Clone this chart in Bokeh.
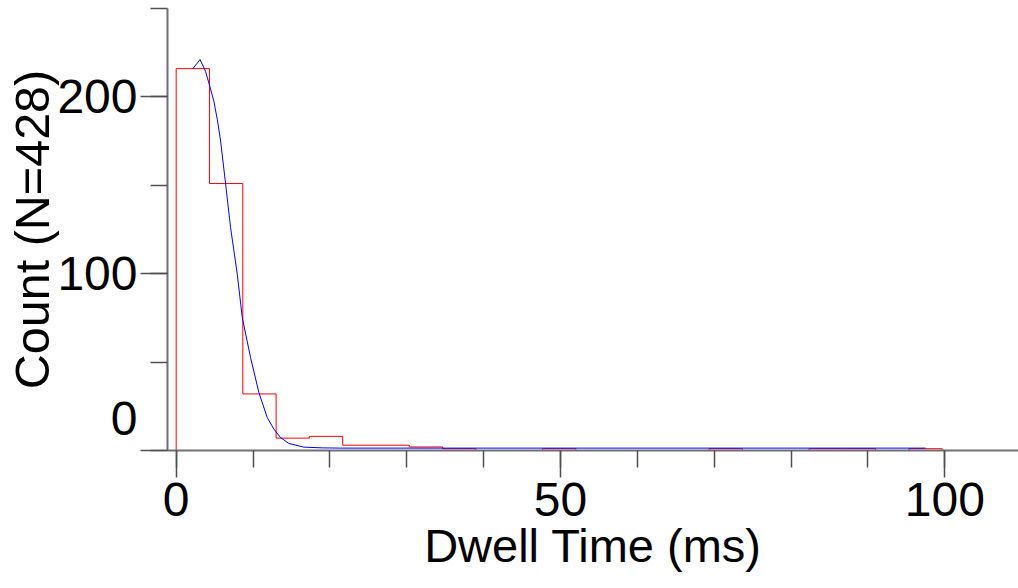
import math
from bokeh.plotting import figure
from bokeh.models import Range1d, SingleIntervalTicker
from bokeh.embed import file_html
from bokeh.resources import INLINE

# ---- data ----
bin_edges = [0.0, 4.33, 8.67, 13.0, 17.33, 21.67, 26.0, 30.33, 34.67, 39.0, 43.33, 47.67,
             52.0, 56.33, 60.67, 65.0, 69.33, 73.67, 78.0, 82.33, 86.67, 91.0, 95.33, 99.67]
counts = [216, 151, 32, 7, 8, 3, 3, 2, 1, 0, 0, 1, 0, 0, 0, 0, 1, 0, 0, 1, 1, 0, 1]

fit_x = [2.17, 3.11, 3.82, 4.25, 4.9, 5.35, 5.78, 6.43, 7.08, 7.95, 8.6, 9.68, 10.76,
         11.85, 12.71, 13.58, 14.66, 16.61, 19.0, 21.4, 97.5]
fit_y = [216.0, 221.1, 214.5, 207.9, 197.6, 187.2, 175.0, 150.8, 126.0, 99.7, 75.1, 52.5,
         32.8, 18.6, 12.1, 7.3, 4.0, 1.9, 1.5, 1.35, 1.35]

x_ticks_major = 50
y_ticks_major = 100
x_label = "Dwell Time (ms)"
y_label = "Count (N=428)"

FONT = "Liberation Sans"

# step outline of histogram
sx, sy = [bin_edges[0]], [0]
for i, c in enumerate(counts):
    sx += [bin_edges[i], bin_edges[i + 1]]
    sy += [c, c]
sx.append(bin_edges[-1])
sy.append(0)

p = figure(width=1018, height=588, output_backend="svg", toolbar_location=None,
           x_range=Range1d(-1.13, 109.59), y_range=Range1d(0, 250),
           min_border_left=167, min_border_right=0, min_border_top=8, min_border_bottom=138)
p.grid.visible = False
p.outline_line_color = None
p.background_fill_color = "white"
p.border_fill_color = "white"

p.line(sx, sy, line_color="#ff0000", line_width=1)
p.line(fit_x, fit_y, line_color="#0000ff", line_width=1)

for ax in (p.xaxis[0], p.yaxis[0]):
    ax.axis_line_color = "#707070"
    ax.axis_line_width = 2
    ax.major_tick_line_color = "#505050"
    ax.minor_tick_line_color = "#505050"
    ax.major_tick_line_width = 1.5
    ax.minor_tick_line_width = 1.5
    ax.major_tick_out = 27
    ax.major_tick_in = 0
    ax.minor_tick_out = 17
    ax.minor_tick_in = 0
    ax.major_label_text_font = FONT
    ax.major_label_text_font_size = "48px"
    ax.major_label_text_color = "black"
    ax.axis_label_text_font = FONT
    ax.axis_label_text_font_style = "normal"
    ax.axis_label_text_color = "black"

p.xaxis.ticker = SingleIntervalTicker(interval=x_ticks_major, num_minor_ticks=5)
p.yaxis.ticker = SingleIntervalTicker(interval=y_ticks_major, num_minor_ticks=2)
p.yaxis.major_label_standoff = 3
p.yaxis.major_label_overrides = {0: "0\n "}
p.xaxis.major_label_standoff = 5

p.xaxis.axis_label = x_label
p.xaxis.axis_label_text_font_size = "47px"
p.xaxis.axis_label_standoff = 0
p.yaxis.axis_label = y_label
p.yaxis.axis_label_text_font_size = "48.5px"
p.yaxis.axis_label_standoff = -5

open("out.html", "w").write(file_html(p, INLINE))
